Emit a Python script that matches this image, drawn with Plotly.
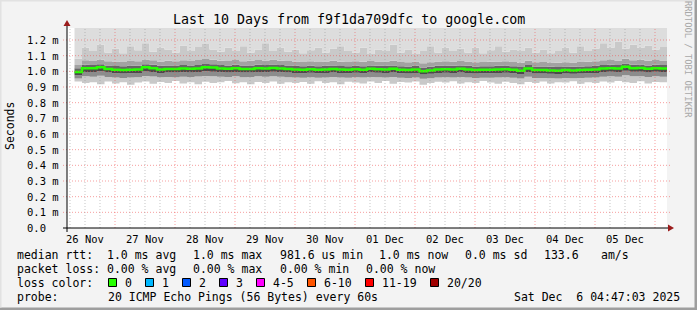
import plotly.graph_objects as go
from datetime import datetime, timedelta

# ---------------- data ----------------
TITLE = "Last 10 Days from f9f1da709dfc to google.com"
AXIS_START = datetime(2025, 11, 26, 4, 48)
AXIS_END = datetime(2025, 12, 6, 4, 48)
SAMPLE_START = datetime(2025, 11, 26, 7, 48)
STEP_HOURS = 3
Y_MAX = 1.2766  # ms

# per 3-hour column values in ms
median = [0.995, 1.020, 1.020, 1.026, 1.015, 1.010, 1.008, 1.010, 1.012, 1.026,
          1.020, 1.012, 1.015, 1.015, 1.018, 1.016, 1.018, 1.026, 1.024, 1.018,
          1.016, 1.020, 1.015, 1.015, 1.020, 1.018, 1.022, 1.018, 1.015, 1.012,
          1.010, 1.014, 1.010, 1.012, 1.015, 1.012, 1.010, 1.014, 1.010, 1.016,
          1.014, 1.012, 1.016, 1.010, 1.008, 1.012, 1.000, 1.006, 1.012, 1.014,
          1.012, 1.016, 1.012, 1.008, 1.010, 1.010, 1.012, 1.014, 1.010, 1.004,
          1.018, 1.008, 1.008, 1.006, 1.004, 1.008, 1.006, 1.008, 1.010, 1.012,
          1.018, 1.020, 1.018, 1.030, 1.020, 1.022, 1.016, 1.020, 1.018]
hi1 = [1.020, 1.042, 1.040, 1.046, 1.038, 1.034, 1.032, 1.035, 1.036, 1.046,
       1.042, 1.036, 1.038, 1.037, 1.040, 1.038, 1.041, 1.047, 1.045, 1.040,
       1.038, 1.042, 1.037, 1.038, 1.042, 1.040, 1.044, 1.040, 1.037, 1.035,
       1.033, 1.036, 1.033, 1.035, 1.038, 1.034, 1.033, 1.036, 1.033, 1.038,
       1.036, 1.035, 1.038, 1.033, 1.031, 1.035, 1.025, 1.030, 1.035, 1.036,
       1.035, 1.038, 1.035, 1.031, 1.033, 1.033, 1.035, 1.036, 1.033, 1.028,
       1.040, 1.031, 1.031, 1.030, 1.028, 1.031, 1.030, 1.031, 1.033, 1.035,
       1.040, 1.042, 1.040, 1.050, 1.042, 1.044, 1.038, 1.042, 1.040]
hi2 = [1.040, 1.070, 1.066, 1.074, 1.065, 1.062, 1.060, 1.066, 1.064, 1.076,
       1.070, 1.063, 1.068, 1.064, 1.070, 1.066, 1.072, 1.078, 1.074, 1.068,
       1.066, 1.072, 1.065, 1.067, 1.073, 1.069, 1.075, 1.068, 1.066, 1.062,
       1.060, 1.064, 1.060, 1.063, 1.067, 1.061, 1.060, 1.064, 1.061, 1.066,
       1.063, 1.062, 1.067, 1.060, 1.058, 1.063, 1.052, 1.058, 1.062, 1.064,
       1.062, 1.066, 1.063, 1.058, 1.060, 1.061, 1.063, 1.065, 1.060, 1.055,
       1.068, 1.058, 1.059, 1.057, 1.055, 1.058, 1.057, 1.059, 1.061, 1.064,
       1.070, 1.072, 1.069, 1.080, 1.071, 1.074, 1.067, 1.072, 1.069]
hi3 = [1.080, 1.150, 1.130, 1.170, 1.120, 1.145, 1.115, 1.160, 1.135, 1.180,
       1.125, 1.150, 1.140, 1.120, 1.165, 1.130, 1.155, 1.175, 1.140, 1.125,
       1.150, 1.130, 1.160, 1.120, 1.140, 1.180, 1.130, 1.150, 1.125, 1.140,
       1.115, 1.135, 1.150, 1.120, 1.145, 1.160, 1.130, 1.120, 1.150, 1.110,
       1.140, 1.130, 1.170, 1.120, 1.140, 1.110, 1.130, 1.160, 1.120, 1.150,
       1.130, 1.145, 1.120, 1.150, 1.115, 1.135, 1.160, 1.125, 1.140, 1.130,
       1.150, 1.120, 1.140, 1.115, 1.130, 1.150, 1.120, 1.160, 1.130, 1.145,
       1.180, 1.150, 1.190, 1.145, 1.170, 1.150, 1.165, 1.140, 1.155]
lo1 = [0.975, 0.995, 0.996, 1.000, 0.992, 0.988, 0.986, 0.988, 0.990, 0.999,
       0.996, 0.990, 0.992, 0.992, 0.994, 0.993, 0.995, 1.000, 0.998, 0.994,
       0.993, 0.996, 0.992, 0.992, 0.996, 0.994, 0.997, 0.994, 0.992, 0.990,
       0.988, 0.991, 0.988, 0.990, 0.992, 0.990, 0.988, 0.991, 0.988, 0.993,
       0.991, 0.990, 0.993, 0.988, 0.986, 0.990, 0.980, 0.985, 0.990, 0.991,
       0.990, 0.993, 0.990, 0.986, 0.988, 0.988, 0.990, 0.991, 0.988, 0.983,
       0.995, 0.986, 0.986, 0.985, 0.983, 0.986, 0.985, 0.986, 0.988, 0.990,
       0.995, 0.997, 0.995, 1.004, 0.997, 0.998, 0.993, 0.997, 0.995]
lo2 = [0.955, 0.968, 0.966, 0.972, 0.964, 0.960, 0.958, 0.961, 0.962, 0.970,
       0.967, 0.962, 0.964, 0.963, 0.966, 0.964, 0.967, 0.971, 0.969, 0.965,
       0.964, 0.968, 0.963, 0.964, 0.968, 0.965, 0.969, 0.966, 0.963, 0.961,
       0.959, 0.962, 0.959, 0.961, 0.964, 0.961, 0.959, 0.962, 0.960, 0.964,
       0.962, 0.961, 0.964, 0.959, 0.957, 0.961, 0.952, 0.956, 0.961, 0.962,
       0.961, 0.964, 0.961, 0.957, 0.959, 0.959, 0.961, 0.962, 0.959, 0.954,
       0.966, 0.957, 0.957, 0.956, 0.954, 0.957, 0.956, 0.957, 0.959, 0.961,
       0.966, 0.968, 0.966, 0.975, 0.968, 0.969, 0.964, 0.968, 0.966]
lo3 = [0.935, 0.925, 0.930, 0.918, 0.935, 0.922, 0.930, 0.915, 0.928, 0.935,
       0.920, 0.932, 0.925, 0.938, 0.922, 0.930, 0.918, 0.934, 0.926, 0.930,
       0.938, 0.924, 0.930, 0.918, 0.932, 0.925, 0.935, 0.920, 0.930, 0.926,
       0.932, 0.920, 0.936, 0.925, 0.930, 0.918, 0.934, 0.928, 0.922, 0.935,
       0.926, 0.938, 0.920, 0.932, 0.928, 0.935, 0.915, 0.925, 0.933, 0.928,
       0.936, 0.922, 0.930, 0.925, 0.938, 0.928, 0.920, 0.934, 0.926, 0.918,
       0.932, 0.925, 0.935, 0.922, 0.930, 0.928, 0.936, 0.920, 0.930, 0.925,
       0.935, 0.928, 0.938, 0.930, 0.925, 0.936, 0.922, 0.932, 0.930]

y_ticks = [0.0, 0.1, 0.2, 0.3, 0.4, 0.5, 0.6, 0.7, 0.8, 0.9, 1.0, 1.1, 1.2]
day_labels = ["26 Nov", "27 Nov", "28 Nov", "29 Nov", "30 Nov",
              "01 Dec", "02 Dec", "03 Dec", "04 Dec", "05 Dec"]
FIRST_DAY = datetime(2025, 11, 26)

stats_row1 = [("median rtt:", 16), ("1.0 ms avg", 106), ("1.0 ms max", 192),
              ("981.6 us min", 279), ("1.0 ms now", 378), ("0.0 ms sd", 464),
              ("133.6", 543), ("am/s", 600)]
stats_row2 = [("packet loss:", 16), ("0.00 % avg", 106), ("0.00 % max", 192),
              ("0.00 % min", 279), ("0.00 % now", 365)]
loss_labels = ["0", "1", "2", "3", "4-5", "6-10", "11-19", "20/20"]
loss_colors = ["#26ff00", "#00b8ff", "#0059ff", "#5e00ff", "#ff00ff",
               "#ff5500", "#ff0000", "#a00000"]
loss_swatch_x = [108.5, 145.5, 182.5, 219.5, 256.5, 307.5, 365.5, 430.5]
probe_text = "20 ICMP Echo Pings (56 Bytes) every 60s"
date_text = "Sat Dec  6 04:47:03 2025"

# ---------------- geometry ----------------
W, H = 697, 310
L, R, T, B = 67, 667, 28, 228
FONT = "DejaVu Sans Mono"


def px(xp):
    return (xp - L) / (R - L)


def py(yp):
    return (B - yp) / (B - T)


n = len(median)
times = [SAMPLE_START + timedelta(hours=STEP_HOURS * k) for k in range(n + 1)]


def ext(a):
    return list(a) + [a[-1]]


fig = go.Figure()
top = [Y_MAX] * n
bands = [
    (lo3, None, None),
    (lo2, "#c9c9c9", "tonexty"),
    (lo1, "#8c8c8c", "tonexty"),
    (median, "#4a4a4a", "tonexty"),
    (hi1, "#666666", "tonexty"),
    (hi2, "#a2a2a2", "tonexty"),
    (hi3, "#c9c9c9", "tonexty"),
    (top, "#dddddd", "tonexty"),
]
for vals, col, fill in bands:
    fig.add_trace(go.Scatter(
        x=times, y=ext(vals), mode="lines", line=dict(width=0, shape="hv"),
        fill=fill, fillcolor=col, showlegend=False, hoverinfo="skip"))

fig.add_trace(go.Scatter(
    x=times, y=ext(median), mode="lines",
    line=dict(width=2.5, color="#26ff00", shape="hv"),
    showlegend=False, hoverinfo="skip"))

shapes = []
ann = []

# grid lines (drawn above the smoke, like rrdtool)
for v in y_ticks[1:]:
    shapes.append(dict(type="line", xref="paper", yref="y", x0=px(63), x1=px(670),
                       y0=v, y1=v, layer="above",
                       line=dict(color="rgba(240,80,80,0.55)", width=1, dash="1px,2px")))
t = AXIS_START.replace(hour=0, minute=0)
while t <= AXIS_END:
    if AXIS_START <= t <= AXIS_END:
        major = t.hour == 0
        shapes.append(dict(type="line", xref="x", yref="paper", x0=t, x1=t,
                           y0=0, y1=1, layer="above",
                           line=dict(color="rgba(240,80,80,0.55)" if major else "rgba(150,150,150,0.55)",
                                     width=1, dash="1px,2px")))
    t += timedelta(hours=6)

# axes with arrows
shapes.append(dict(type="line", xref="paper", yref="paper", x0=px(63), x1=px(670),
                   y0=0, y1=0, layer="above", line=dict(color="black", width=1)))
shapes.append(dict(type="line", xref="paper", yref="paper", x0=0, x1=0,
                   y0=py(232), y1=py(25), layer="above", line=dict(color="black", width=1)))
shapes.append(dict(type="path", xref="paper", yref="paper", layer="above",
                   path=f"M {px(63.5)} {py(26)} L {px(70.5)} {py(26)} L {px(67)} {py(20)} Z",
                   fillcolor="#9b1c1c", line=dict(width=0)))
shapes.append(dict(type="path", xref="paper", yref="paper", layer="above",
                   path=f"M {px(668)} {py(224.5)} L {px(668)} {py(231.5)} L {px(674)} {py(228)} Z",
                   fillcolor="#9b1c1c", line=dict(width=0)))

# outer 3D border
shapes.append(dict(type="rect", xref="paper", yref="paper", x0=px(694.5), x1=px(697),
                   y0=py(310), y1=py(0), fillcolor="#9e9e9e", line=dict(width=0)))
shapes.append(dict(type="rect", xref="paper", yref="paper", x0=px(0), x1=px(697),
                   y0=py(310), y1=py(307.5), fillcolor="#9e9e9e", line=dict(width=0)))
shapes.append(dict(type="rect", xref="paper", yref="paper", x0=px(0), x1=px(1.5),
                   y0=py(307.5), y1=py(0), fillcolor="#e2e2e2", line=dict(width=0)))
shapes.append(dict(type="rect", xref="paper", yref="paper", x0=px(0), x1=px(694.5),
                   y0=py(1.5), y1=py(0), fillcolor="#e2e2e2", line=dict(width=0)))

# y tick labels
for v in y_ticks:
    txt = f"{v:.1f}\u00a0m" if v > 0 else "0.0\u00a0\u00a0"
    ann.append(dict(x=px(61), y=v, xref="paper", yref="y", text=txt, showarrow=False,
                    xanchor="right", yanchor="middle",
                    font=dict(family=FONT, size=10.5, color="black")))
# x tick labels (centered at noon)
for i, lab in enumerate(day_labels):
    ann.append(dict(x=FIRST_DAY + timedelta(days=i, hours=12), y=py(238.5), xref="x", yref="paper",
                    text=lab, showarrow=False, xanchor="center", yanchor="middle",
                    font=dict(family=FONT, size=10.5, color="black")))

# title & side texts
ann.append(dict(x=px(348.5), y=py(19), xref="paper", yref="paper", text=TITLE, showarrow=False,
                xanchor="center", yanchor="middle", font=dict(family=FONT, size=13.3, color="black")))
ann.append(dict(x=px(10), y=py(126), xref="paper", yref="paper", text="Seconds", showarrow=False,
                textangle=-90, xanchor="center", yanchor="middle",
                font=dict(family=FONT, size=11.5, color="black")))
ann.append(dict(x=px(688), y=py(59), xref="paper", yref="paper", text="RRDTOOL / TOBI OETIKER",
                showarrow=False, textangle=90, xanchor="center", yanchor="middle",
                font=dict(family=FONT, size=8.8, color="#a8a8a8")))


def legend_text(text, xpix, ypix):
    ann.append(dict(x=px(xpix - 1), y=py(ypix), xref="paper", yref="paper",
                    text=text.replace(" ", "\u00a0"), showarrow=False,
                    xanchor="left", yanchor="middle",
                    font=dict(family=FONT, size=11.5, color="black")))


for txt, xp in stats_row1:
    legend_text(txt, xp, 254.5)
for txt, xp in stats_row2:
    legend_text(txt, xp, 268.5)
legend_text("loss color:", 16, 282.5)
for lab, col, xs in zip(loss_labels, loss_colors, loss_swatch_x):
    shapes.append(dict(type="rect", xref="paper", yref="paper", x0=px(xs), x1=px(xs + 8),
                       y0=py(286.5), y1=py(278.5), fillcolor=col,
                       line=dict(color="black", width=1)))
    legend_text(lab, xs + 15, 282.5)
legend_text("probe:", 16, 296.5)
legend_text(probe_text, 107, 296.5)
legend_text(date_text, 513, 296.5)

fig.update_layout(
    width=W, height=H,
    margin=dict(l=L, r=W - R, t=T, b=H - B, pad=0),
    paper_bgcolor="#f3f3f3", plot_bgcolor="#ffffff",
    showlegend=False,
    xaxis=dict(type="date", range=[AXIS_START, AXIS_END], showgrid=False, zeroline=False,
               showticklabels=False, showline=False, ticks="", fixedrange=True),
    yaxis=dict(range=[0, Y_MAX], showgrid=False, zeroline=False, showticklabels=False,
               showline=False, ticks="", fixedrange=True),
    shapes=shapes, annotations=ann,
    font=dict(family=FONT),
)

fig.write_html("out.html")
